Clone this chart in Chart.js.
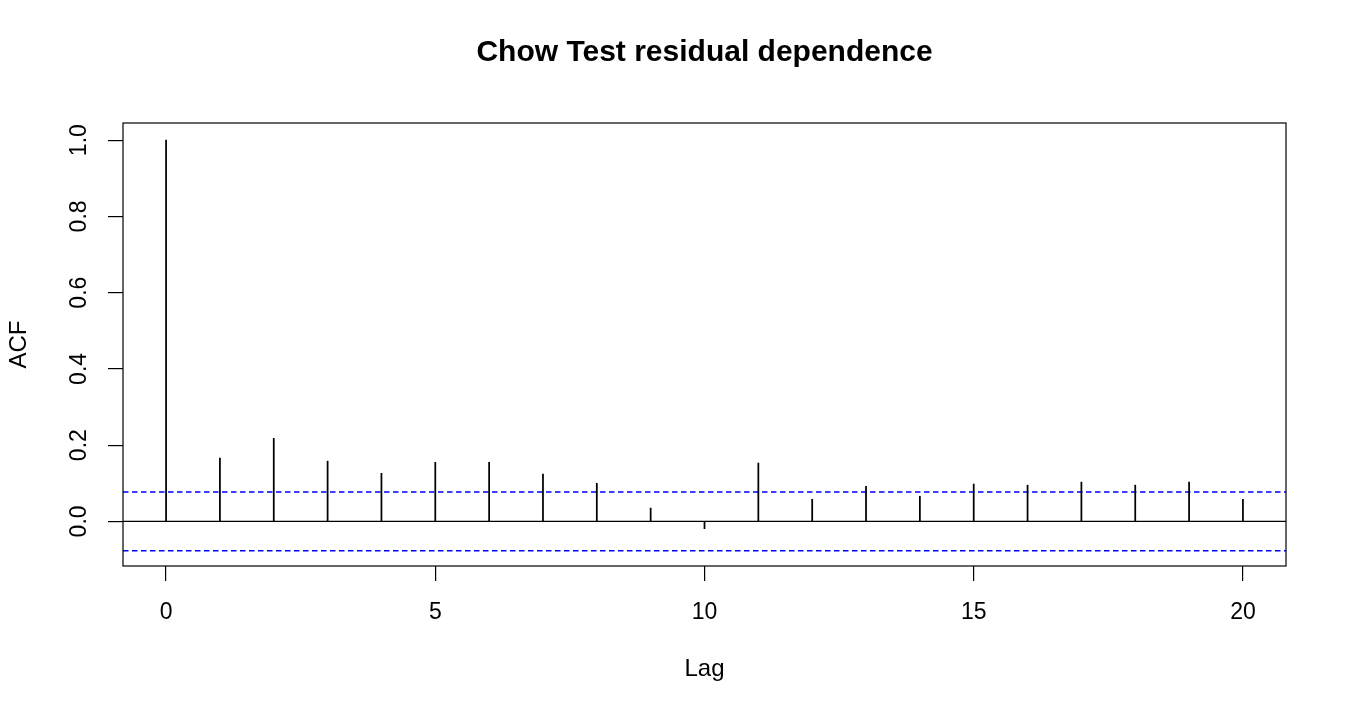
<!DOCTYPE html>
<html>
<head>
<meta charset="utf-8">
<script src="https://cdn.jsdelivr.net/npm/chart.js@4"></script>
<style>
  body { margin: 0; background: #fff; }
  canvas { display: block; }
</style>
</head>
<body>
<canvas id="acfChart" width="1350" height="720"></canvas>
<script>
// ACF of the Chow test residuals, lags 0..20
const lags = [0, 1, 2, 3, 4, 5, 6, 7, 8, 9, 10, 11, 12, 13, 14, 15, 16, 17, 18, 19, 20];
const acfValues = [1.0, 0.166, 0.218, 0.158, 0.126, 0.155, 0.155, 0.124, 0.100, 0.035, -0.019,
                   0.153, 0.058, 0.092, 0.066, 0.098, 0.095, 0.103, 0.095, 0.103, 0.058];
const ciBound = 0.077;

const xTicks = [0, 5, 10, 15, 20];
const yTicks = [0, 0.2, 0.4, 0.6, 0.8, 1.0];
const xLimits = [-0.8, 20.8];
const yLimits = [-0.117, 1.045];

const fontFamily = '"Liberation Sans", Arial, sans-serif';
Chart.defaults.color = '#000';
Chart.defaults.font.family = fontFamily;

function hLine(yValue, color) {
    return {
        type: 'line',
        data: [{ x: xLimits[0], y: yValue }, { x: xLimits[1], y: yValue }],
        borderColor: color,
        borderWidth: color === '#000' ? 1.2 : 1.4,
        borderDash: color === '#000' ? [] : [5.5, 3.5],
        pointRadius: 0,
        fill: false
    };
}

// box around the plot region, like R's box()
const frameBox = {
    id: 'frameBox',
    afterDraw(chart) {
        const a = chart.chartArea;
        const c = chart.ctx;
        c.save();
        c.strokeStyle = '#000';
        c.lineWidth = 1.2;
        c.strokeRect(a.left, a.top, a.right - a.left, a.bottom - a.top);
        c.restore();
    }
};

const ctx = document.getElementById('acfChart').getContext('2d');

new Chart(ctx, {
    type: 'bar',
    data: {
        datasets: [
            {
                type: 'bar',
                data: lags.map((l, i) => ({ x: l, y: acfValues[i] })),
                backgroundColor: '#000',
                barThickness: 1.1
            },
            hLine(0, '#000'),
            hLine(ciBound, '#0000ff'),
            hLine(-ciBound, '#0000ff')
        ]
    },
    plugins: [frameBox],
    options: {
        responsive: false,
        animation: false,
        devicePixelRatio: 1,
        layout: { padding: { left: 0, right: 64, top: 0, bottom: 0 } },
        plugins: {
            legend: { display: false },
            tooltip: { enabled: false },
            title: {
                display: true,
                fullSize: false,
                text: 'Chow Test residual dependence',
                color: '#000',
                font: { size: 30, weight: 'bold', family: fontFamily },
                padding: { top: 35, bottom: 52 }
            }
        },
        scales: {
            x: {
                type: 'linear',
                min: xLimits[0],
                max: xLimits[1],
                offset: false,
                afterBuildTicks: s => { s.ticks = xTicks.map(v => ({ value: v })); },
                afterFit: s => { s.height = 154; },
                ticks: {
                    autoSkip: false,
                    maxRotation: 0,
                    padding: 18,
                    font: { size: 23 },
                    callback: v => String(v)
                },
                grid: { offset: false, drawOnChartArea: false, tickLength: 15, color: '#000', lineWidth: 1.2 },
                border: { display: false },
                title: {
                    display: true,
                    text: 'Lag',
                    font: { size: 24 },
                    padding: { top: 0, bottom: 36 }
                }
            },
            y: {
                type: 'linear',
                min: yLimits[0],
                max: yLimits[1],
                afterBuildTicks: s => { s.ticks = yTicks.map(v => ({ value: v })); },
                afterFit: s => { s.width = 123; },
                ticks: {
                    autoSkip: false,
                    minRotation: 90,
                    maxRotation: 90,
                    crossAlign: 'center',
                    padding: 12,
                    font: { size: 23 },
                    callback: v => v.toFixed(1)
                },
                grid: { drawOnChartArea: false, tickLength: 15, color: '#000', lineWidth: 1.2 },
                border: { display: false },
                title: {
                    display: true,
                    text: 'ACF',
                    font: { size: 24 },
                    padding: { top: 5, bottom: 0 }
                }
            }
        }
    }
});
</script>
</body>
</html>
